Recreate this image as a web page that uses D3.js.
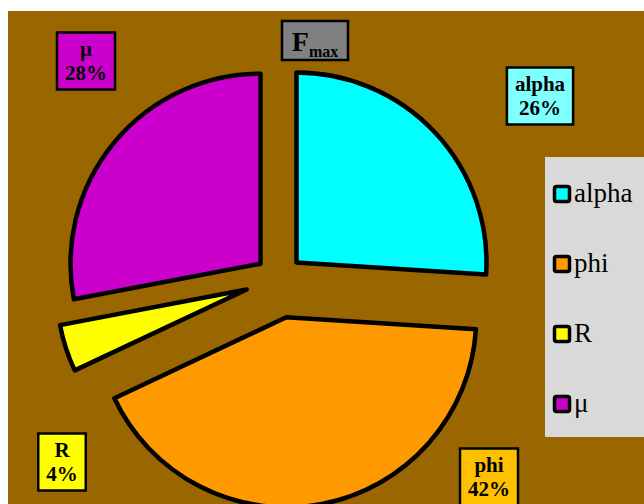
<!DOCTYPE html>
<meta charset="utf-8">
<body style="margin:0;background:#fff">

<svg width="644" height="504"></svg>

<script src="https://d3js.org/d3.v7.min.js"></script>
<script>

// data
var categories = ["alpha", "phi", "R", "\u03bc"];
var values = [26, 42, 4, 28];
var sliceColors = ["#00ffff", "#ff9900", "#ffff00", "#cc00cc"];
var boxColors = ["#80ffff", "#ffc000", "#ffff00", "#cc00cc"];

// layout
var explode = [24, 39, 34, 24];          // how far each slice is pulled out
var labelCenters = [[540, 96], [489, 477], [62, 462], [86, 61]];
var cx = 279, cy = 279, radius = 190;

var svg = d3.select("svg");
var font = "Liberation Serif, Times New Roman, DejaVu Serif, serif";

svg.append("rect")
  .attr("x", 8).attr("y", 11)
  .attr("width", 636).attr("height", 493)
  .attr("fill", "#996600");

var total = d3.sum(values);
var pie = d3.pie().sort(null).value(function(d) { return d; });
var arcs = pie(values);
var arc = d3.arc().innerRadius(0).outerRadius(radius);

var pieG = svg.append("g").attr("transform", "translate(" + cx + "," + cy + ")");

pieG.selectAll("path")
  .data(arcs)
  .enter().append("path")
  .attr("d", arc)
  .attr("transform", function(d, i) {
    var mid = (d.startAngle + d.endAngle) / 2;
    return "translate(" + (Math.sin(mid) * explode[i]) + "," + (-Math.cos(mid) * explode[i]) + ")";
  })
  .attr("fill", function(d, i) { return sliceColors[i]; })
  .attr("stroke", "#000")
  .attr("stroke-width", 4.5)
  .attr("stroke-linejoin", "round");

// data labels
var labels = svg.append("g");
arcs.forEach(function(d, i) {
  var g = labels.append("g");
  var rect = g.append("rect");
  var t1 = g.append("text")
    .attr("x", labelCenters[i][0]).attr("y", labelCenters[i][1] - 5)
    .attr("text-anchor", "middle")
    .style("font-family", font).style("font-weight", "bold").style("font-size", "21px")
    .text(categories[i]);
  var t2 = g.append("text")
    .attr("x", labelCenters[i][0]).attr("y", labelCenters[i][1] + 19)
    .attr("text-anchor", "middle")
    .style("font-family", font).style("font-weight", "bold").style("font-size", "21px")
    .text(Math.round(d.value / total * 100) + "%");
  var w = Math.max(t1.node().getComputedTextLength(), t2.node().getComputedTextLength()) + 16;
  var h = 57;
  rect.attr("x", labelCenters[i][0] - w / 2).attr("y", labelCenters[i][1] - h / 2)
    .attr("width", w).attr("height", h)
    .attr("fill", boxColors[i])
    .attr("stroke", "#000").attr("stroke-width", 2.5);
});

// title
svg.append("rect")
  .attr("x", 282).attr("y", 21).attr("width", 66).attr("height", 39)
  .attr("fill", "#808080").attr("stroke", "#000").attr("stroke-width", 2.5);
var title = svg.append("text")
  .attr("x", 315).attr("y", 51)
  .attr("text-anchor", "middle")
  .style("font-family", font).style("font-weight", "bold");
title.append("tspan").style("font-size", "28px").text("F");
title.append("tspan").style("font-size", "16px").attr("dy", 6).text("max");

// legend
svg.append("rect")
  .attr("x", 545).attr("y", 157).attr("width", 99).attr("height", 280)
  .attr("fill", "#d9d9d9");

var legendY = d3.scalePoint().domain(categories).range([194, 404]);
var leg = svg.selectAll(".leg")
  .data(categories)
  .enter().append("g")
  .attr("class", "leg")
  .attr("transform", function(d) { return "translate(553," + legendY(d) + ")"; });

leg.append("rect")
  .attr("x", 1.5).attr("y", -7.5).attr("width", 15).attr("height", 15)
  .attr("rx", 2)
  .attr("fill", function(d, i) { return sliceColors[i]; })
  .attr("stroke", "#000").attr("stroke-width", 3.5);

leg.append("text")
  .attr("x", 21).attr("y", 8)
  .style("font-family", font).style("font-size", "27px")
  .text(function(d) { return d; });

</script>
